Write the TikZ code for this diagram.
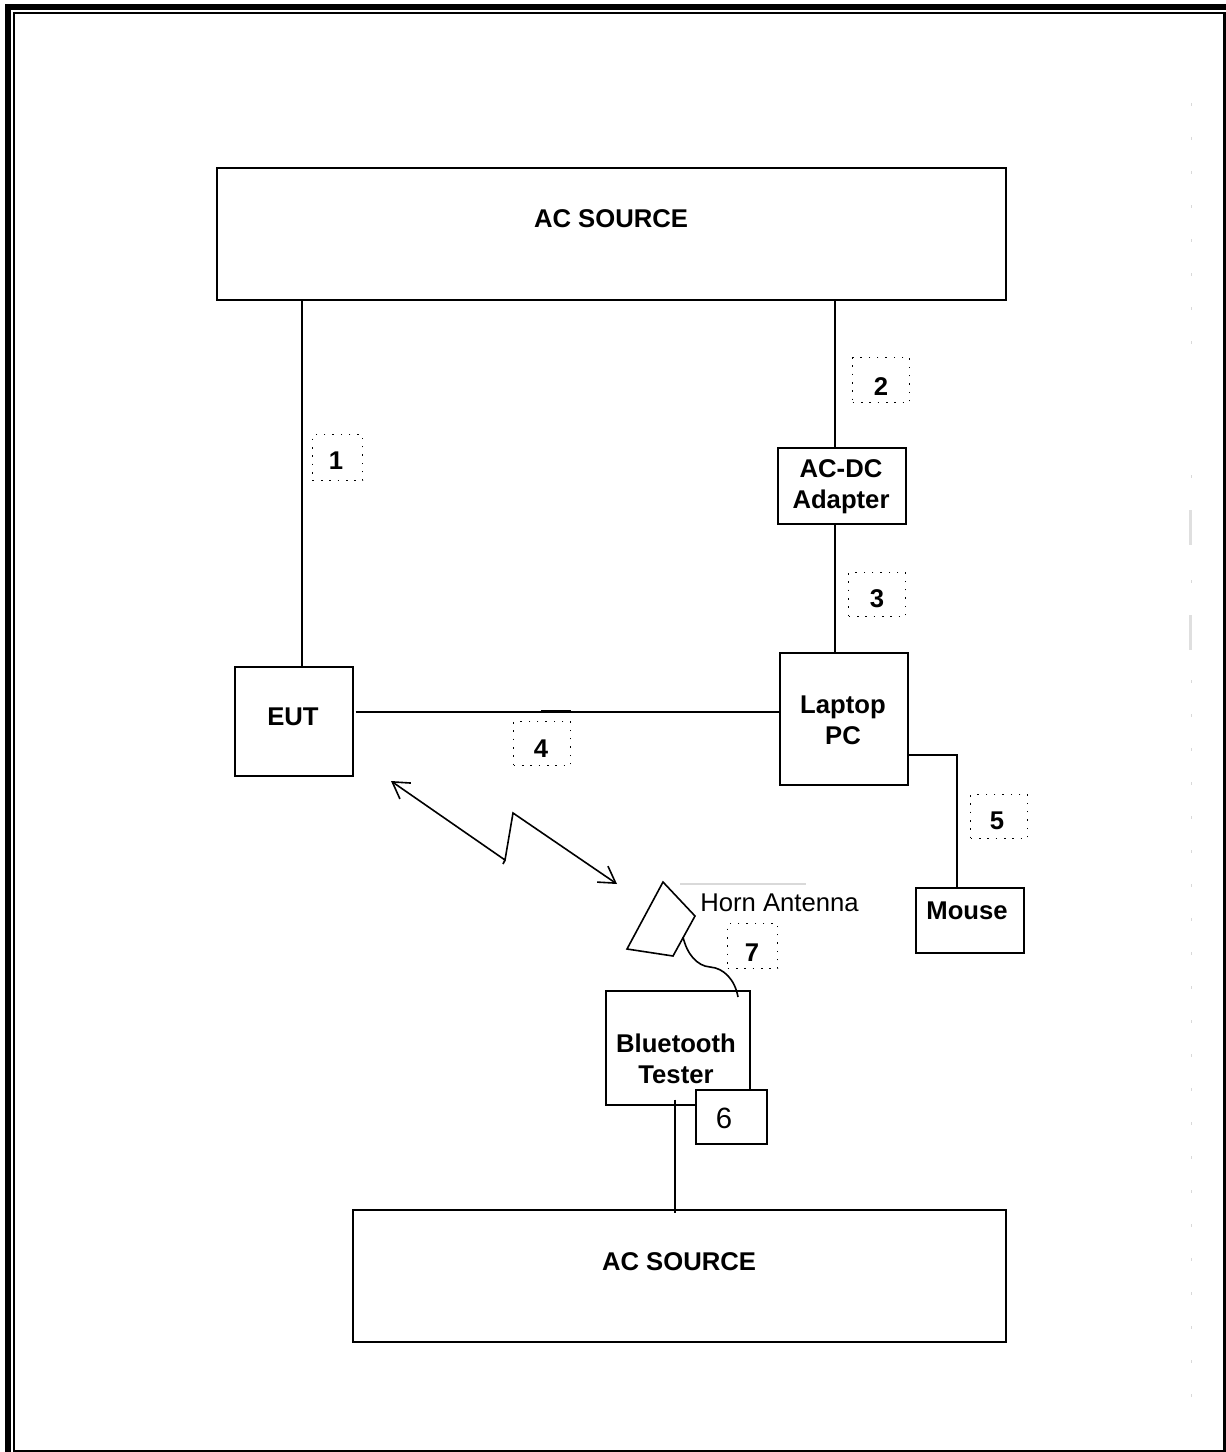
\documentclass[tikz,border=0pt]{standalone}
\usepackage{fontspec}
\setmainfont{Liberation Sans}
\usetikzlibrary{arrows.meta,calc}
\tikzset{pin/.style={{Straight Barb[length=12pt,width=14.5pt]}-{Straight Barb[length=12pt,width=14.5pt]}},
  wire/.style={line width=1.2pt},
  blk/.style={draw, line width=1.3pt, anchor=north west, inner sep=0pt},
  txt/.style={inner sep=0pt, align=center, font=\fontsize{19.25}{23}\selectfont\bfseries},
  tag/.style={draw, line width=1.1pt, dash pattern=on 1.1pt off 5.15pt, anchor=north west, inner sep=0pt}}

\begin{document}
\begin{tikzpicture}[x=0.75pt,y=-0.75pt]
  \useasboundingbox (0,0) rectangle (1226,1452);
  % page frame
  \fill (5,4) rectangle (1226,10);
  \fill (5,4) rectangle (11,1452);
  \fill (13,12) rectangle (1226,14);
  \fill (13,12) rectangle (15,1452);
  \fill (1223,12) rectangle (1226,1452);
  \fill (13,1450) rectangle (1226,1452);
  % faint marks along the right edge
  \foreach \y in {103,137,...,373,475,580,680,714,...,1400}
    \draw[gray!30, line width=0.75pt] (1191,\y) -- ++(0,3);
  \fill[gray!25] (1189,510) rectangle (1192,545);
  \fill[gray!25] (1189,615) rectangle (1192,650);
  % boxes
  \node[blk, minimum width=591.75pt, minimum height=99pt] (actop) at (216,167) {};
  \node[blk, minimum width=96pt, minimum height=57pt] (adapter) at (777,447) {};
  \node[blk, minimum width=96pt, minimum height=99pt] (laptop) at (779,652) {};
  \node[blk, minimum width=88.5pt, minimum height=81.75pt] (eut) at (234,666) {};
  \node[blk, minimum width=81pt, minimum height=48.75pt] (mouse) at (915,887) {};
  \node[blk, minimum width=108pt, minimum height=85.5pt] (tester) at (605,990) {};
  \node[blk, fill=white, minimum width=53.25pt, minimum height=40.5pt] (six) at (695,1089) {};
  \node[blk, minimum width=489.75pt, minimum height=99pt] (acbot) at (352,1209) {};
  % box texts
  \node[txt] (actoptxt) at (611,219) {AC SOURCE};
  \node[txt] (adaptertxt) at (841,487) {AC-DC\\Adapter};
  \node[txt] (laptoptxt) at (843,720) {Laptop\\PC};
  \node[txt] (euttxt) at (293,717) {EUT};
  \node[txt] (mousetxt) at (967,911) {Mouse};
  \node[txt] (testertxt) at (676,1059) {Bluetooth\\Tester};
  \node[txt, font=\fontsize{22}{26}\selectfont] (sixtxt) at (724,1118) {6};
  \node[txt] (acbottxt) at (679,1262) {AC SOURCE};
  % cable numbers
  \node[tag, minimum width=37.5pt, minimum height=34.5pt] (n1) at (312,434) {};
  \node[tag, minimum width=42.75pt, minimum height=33.75pt] (n2) at (852,357) {};
  \node[tag, minimum width=42.75pt, minimum height=33pt] (n3) at (848,572) {};
  \node[tag, minimum width=42.75pt, minimum height=33pt] (n4) at (513,721) {};
  \node[tag, minimum width=42.75pt, minimum height=33pt] (n5) at (970,794) {};
  \node[tag, minimum width=37.5pt, minimum height=33.75pt] (n7) at (727,923) {};
  \node[txt] (n1txt) at (336,461) {1};
  \node[txt] (n2txt) at (881,387) {2};
  \node[txt] (n3txt) at (877,599) {3};
  \node[txt] (n4txt) at (541,749) {4};
  \node[txt] (n5txt) at (997,821) {5};
  \node[txt] (n7txt) at (752,953) {7};
  % cables
  \draw[wire] ($(actop.south west)+(86,0)$) -- ($(eut.north west)+(68,0)$);
  \draw[wire] ($(actop.south west)+(619,0)$) -- ($(adapter.north west)+(58,0)$);
  \draw[wire] ($(adapter.south west)+(58,0)$) -- ($(laptop.north west)+(56,0)$);
  \draw[wire] ($(eut.north east)+(2,46)$) -- ($(laptop.north west)+(0,60)$);
  \draw[wire] ($(n4.north west)+(28,-10)$) -- ($(n4.north east)+(0,-10)$);
  \draw[wire] ($(laptop.north east)+(0,103)$) -| ($(mouse.north west)+(42,0)$);
  \draw[wire] ($(tester.south west)+(70,-6)$) -- ($(acbot.north west)+(323,4)$);
  % radio link
  \draw[wire, pin] (391,781) -- (505,860) -- (513,813) -- (617,884);
  \draw[wire] (503,864) -- (505,860);
  % horn
  \coordinate (hornport) at (683,937);
  \draw[wire] (663,882) -- (695,916) -- (673,956) -- (627,949) -- cycle;
  \draw[wire] (hornport) .. controls (687,954) and (697,966) .. (710,967) .. controls (724,968) and (735,980) .. ($(tester.north west)+(133,7)$);
  \draw[gray!30, line width=1.1pt] (680,884) -- (806,884);
  \node[anchor=west, inner sep=0pt, font=\fontsize{19.25}{23}\selectfont] (hornlbl) at (700,903) {Horn Antenna};
\end{tikzpicture}
\end{document}
